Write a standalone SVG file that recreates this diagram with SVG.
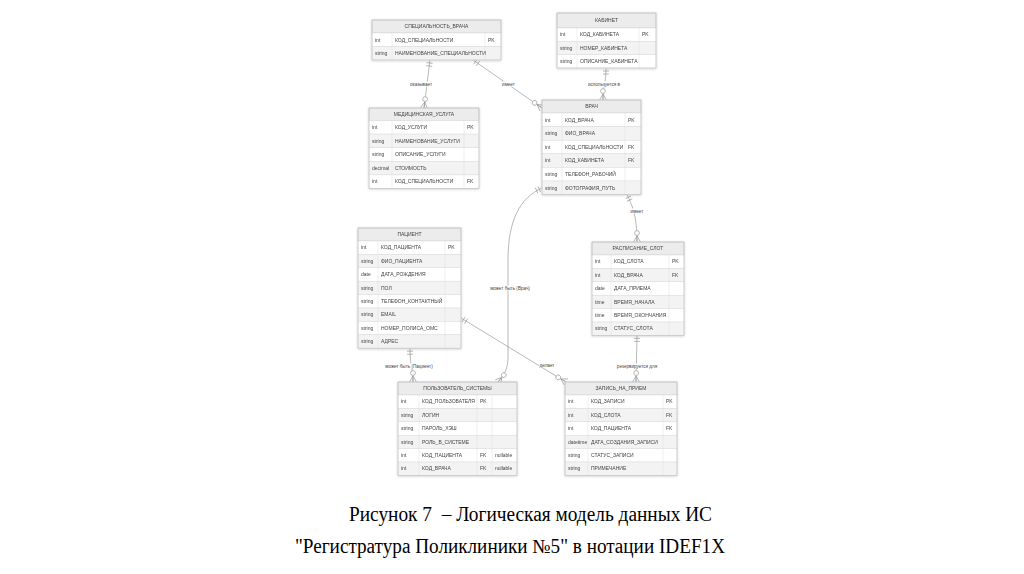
<svg xmlns="http://www.w3.org/2000/svg" width="1024" height="574" viewBox="0 0 1024 574">
<style>
.hd{fill:#ececec;stroke:#c8c8c8;stroke-width:0.6}
.rw{fill:#ffffff;stroke:#dcdcdc;stroke-width:0.5}
.ra{fill:#f3f3f3;stroke:#dcdcdc;stroke-width:0.5}
.box{fill:none;stroke:#c4c4c4;stroke-width:0.7}
.cl{stroke:#dcdcdc;stroke-width:0.5}
.t{font-family:"Liberation Sans",Arial,sans-serif;font-size:5px;fill:#444}
.tt{font-family:"Liberation Sans",Arial,sans-serif;font-size:5px;fill:#444;text-anchor:middle}
.lb{font-family:"Liberation Sans",Arial,sans-serif;font-size:4.6px;fill:#444;text-anchor:middle}
.lbg{fill:#ffffff}
.cn{fill:none;stroke:#9a9a9a;stroke-width:0.7}
.cap{font-family:"Liberation Serif","Times New Roman",serif;font-size:20px;fill:#000;text-anchor:middle}
</style>
<defs>
<filter id="sh" x="-10%" y="-10%" width="120%" height="120%">
<feDropShadow dx="0" dy="0.6" stdDeviation="1" flood-color="#000" flood-opacity="0.18"/>
</filter>
<marker id="one" markerUnits="userSpaceOnUse" viewBox="-10 -5 11 10" markerWidth="11" markerHeight="10" refX="0" refY="0" orient="auto-start-reverse" overflow="visible">
<path d="M-3,-3 L-3,3 M-6,-3 L-6,3" fill="none" stroke="#9a9a9a" stroke-width="0.7"/>
</marker>
<marker id="many" markerUnits="userSpaceOnUse" viewBox="-14 -5 15 10" markerWidth="15" markerHeight="10" refX="0" refY="0" orient="auto" overflow="visible">
<path d="M-6,0 L0,-3.5 M-6,0 L0,3.5 M-6,0 L0,0" fill="none" stroke="#9a9a9a" stroke-width="0.7"/>
<circle cx="-9" cy="0" r="2.4" fill="#ffffff" stroke="#9a9a9a" stroke-width="0.7"/>
</marker>
</defs>
<rect x="0" y="0" width="1024" height="574" fill="#ffffff"/>

<g id="connectors">
<path class="cn" d="M430,60 L424,108" marker-start="url(#one)" marker-end="url(#many)"/>
<path class="cn" d="M473,60 L542,108" marker-start="url(#one)" marker-end="url(#many)"/>
<path class="cn" d="M606,68 C606,84 603,86 603,100" marker-start="url(#one)" marker-end="url(#many)"/>
<path class="cn" d="M627,194.6 C632,205 637,215 637,242" marker-start="url(#one)" marker-end="url(#many)"/>
<path class="cn" d="M637,335.4 L636,382" marker-start="url(#one)" marker-end="url(#many)"/>
<path class="cn" d="M410,348.2 C410,365 413,370 413,382" marker-start="url(#one)" marker-end="url(#many)"/>
<path class="cn" d="M542,188 C520,198 508,220 508,260 L508,358 C508,370 503,376 498,382" marker-start="url(#one)" marker-end="url(#many)"/>
<path class="cn" d="M461,318 L556,376 Q561,379 566,382" marker-start="url(#one)" marker-end="url(#many)"/>
<rect class="lbg" x="409" y="81.5" width="24" height="5"/>
<text class="lb" x="421" y="85.6">оказывает</text>
<rect class="lbg" x="501" y="81.5" width="15" height="5"/>
<text class="lb" x="508.5" y="85.6">имеет</text>
<rect class="lbg" x="586" y="81.5" width="36" height="5"/>
<text class="lb" x="604" y="85.6">используется в</text>
<rect class="lbg" x="629.5" y="208.5" width="15" height="5"/>
<text class="lb" x="637" y="212.6">имеет</text>
<rect class="lbg" x="616" y="363.5" width="42" height="5"/>
<text class="lb" x="637" y="367.6">резервируется для</text>
<rect class="lbg" x="384" y="363.5" width="50" height="5"/>
<text class="lb" x="409" y="367.6">может быть (Пациент)</text>
<rect class="lbg" x="489" y="285.5" width="42" height="5"/>
<text class="lb" x="510" y="289.6">может быть (Врач)</text>
<rect class="lbg" x="539" y="362.5" width="16" height="5"/>
<text class="lb" x="547" y="366.6">делает</text>
</g>

<g id="t_spec" filter="url(#sh)">
<rect class="hd" x="372" y="20" width="129" height="13"/>
<rect class="rw" x="372" y="33" width="129" height="13.5"/>
<rect class="ra" x="372" y="46.5" width="129" height="13.5"/>
<line class="cl" x1="392" y1="33" x2="392" y2="60"/>
<line class="cl" x1="485" y1="33" x2="485" y2="60"/>
<rect class="box" x="372" y="20" width="129" height="40"/>
<text class="tt" x="436.5" y="28.3">СПЕЦИАЛЬНОСТЬ_ВРАЧА</text>
<text class="t" x="375" y="41.5">int</text><text class="t" x="395" y="41.5">КОД_СПЕЦИАЛЬНОСТИ</text><text class="t" x="488" y="41.5">PK</text>
<text class="t" x="375" y="55">string</text><text class="t" x="395" y="55">НАИМЕНОВАНИЕ_СПЕЦИАЛЬНОСТИ</text>
</g>

<g id="t_kab" filter="url(#sh)">
<rect class="hd" x="557" y="13" width="99" height="15"/>
<rect class="rw" x="557" y="28" width="99" height="13.33"/>
<rect class="ra" x="557" y="41.33" width="99" height="13.33"/>
<rect class="rw" x="557" y="54.67" width="99" height="13.33"/>
<line class="cl" x1="577" y1="28" x2="577" y2="68"/>
<line class="cl" x1="639" y1="28" x2="639" y2="68"/>
<rect class="box" x="557" y="13" width="99" height="55"/>
<text class="tt" x="606.5" y="22.3">КАБИНЕТ</text>
<text class="t" x="560" y="36.4">int</text><text class="t" x="580" y="36.4">КОД_КАБИНЕТА</text><text class="t" x="642" y="36.4">PK</text>
<text class="t" x="560" y="49.8">string</text><text class="t" x="580" y="49.8">НОМЕР_КАБИНЕТА</text>
<text class="t" x="560" y="63.1">string</text><text class="t" x="580" y="63.1">ОПИСАНИЕ_КАБИНЕТА</text>
</g>

<g id="t_usl" filter="url(#sh)">
<rect class="hd" x="369" y="108" width="110" height="12.5"/>
<rect class="rw" x="369" y="120.5" width="110" height="13.6"/>
<rect class="ra" x="369" y="134.1" width="110" height="13.6"/>
<rect class="rw" x="369" y="147.7" width="110" height="13.6"/>
<rect class="ra" x="369" y="161.3" width="110" height="13.6"/>
<rect class="rw" x="369" y="174.9" width="110" height="13.6"/>
<line class="cl" x1="392" y1="120.5" x2="392" y2="188.5"/>
<line class="cl" x1="464" y1="120.5" x2="464" y2="188.5"/>
<rect class="box" x="369" y="108" width="110" height="80.5"/>
<text class="tt" x="424" y="116.1">МЕДИЦИНСКАЯ_УСЛУГА</text>
<text class="t" x="372" y="129.05">int</text><text class="t" x="395" y="129.05">КОД_УСЛУГИ</text><text class="t" x="467" y="129.05">PK</text>
<text class="t" x="372" y="142.65">string</text><text class="t" x="395" y="142.65">НАИМЕНОВАНИЕ_УСЛУГИ</text>
<text class="t" x="372" y="156.25">string</text><text class="t" x="395" y="156.25">ОПИСАНИЕ_УСЛУГИ</text>
<text class="t" x="372" y="169.85">decimal</text><text class="t" x="395" y="169.85">СТОИМОСТЬ</text>
<text class="t" x="372" y="183.45">int</text><text class="t" x="395" y="183.45">КОД_СПЕЦИАЛЬНОСТИ</text><text class="t" x="467" y="183.45">FK</text>
</g>

<g id="t_vrach" filter="url(#sh)">
<rect class="hd" x="542" y="100" width="99" height="13"/>
<rect class="rw" x="542" y="113" width="99" height="13.6"/>
<rect class="ra" x="542" y="126.6" width="99" height="13.6"/>
<rect class="rw" x="542" y="140.2" width="99" height="13.6"/>
<rect class="ra" x="542" y="153.8" width="99" height="13.6"/>
<rect class="rw" x="542" y="167.4" width="99" height="13.6"/>
<rect class="ra" x="542" y="181" width="99" height="13.6"/>
<line class="cl" x1="562" y1="113" x2="562" y2="194.6"/>
<line class="cl" x1="625" y1="113" x2="625" y2="194.6"/>
<rect class="box" x="542" y="100" width="99" height="94.6"/>
<text class="tt" x="591.5" y="108.3">ВРАЧ</text>
<text class="t" x="545" y="121.55">int</text><text class="t" x="565" y="121.55">КОД_ВРАЧА</text><text class="t" x="628" y="121.55">PK</text>
<text class="t" x="545" y="135.15">string</text><text class="t" x="565" y="135.15">ФИО_ВРАЧА</text>
<text class="t" x="545" y="148.75">int</text><text class="t" x="565" y="148.75">КОД_СПЕЦИАЛЬНОСТИ</text><text class="t" x="628" y="148.75">FK</text>
<text class="t" x="545" y="162.35">int</text><text class="t" x="565" y="162.35">КОД_КАБИНЕТА</text><text class="t" x="628" y="162.35">FK</text>
<text class="t" x="545" y="175.95">string</text><text class="t" x="565" y="175.95">ТЕЛЕФОН_РАБОЧИЙ</text>
<text class="t" x="545" y="189.55">string</text><text class="t" x="565" y="189.55">ФОТОГРАФИЯ_ПУТЬ</text>
</g>

<g id="t_pac" filter="url(#sh)">
<rect class="hd" x="358" y="228" width="103" height="13"/>
<rect class="rw" x="358" y="241" width="103" height="13.4"/>
<rect class="ra" x="358" y="254.4" width="103" height="13.4"/>
<rect class="rw" x="358" y="267.8" width="103" height="13.4"/>
<rect class="ra" x="358" y="281.2" width="103" height="13.4"/>
<rect class="rw" x="358" y="294.6" width="103" height="13.4"/>
<rect class="ra" x="358" y="308" width="103" height="13.4"/>
<rect class="rw" x="358" y="321.4" width="103" height="13.4"/>
<rect class="ra" x="358" y="334.8" width="103" height="13.4"/>
<line class="cl" x1="378" y1="241" x2="378" y2="348.2"/>
<line class="cl" x1="445" y1="241" x2="445" y2="348.2"/>
<rect class="box" x="358" y="228" width="103" height="120.2"/>
<text class="tt" x="409.5" y="236.3">ПАЦИЕНТ</text>
<text class="t" x="361" y="249.45">int</text><text class="t" x="381" y="249.45">КОД_ПАЦИЕНТА</text><text class="t" x="448" y="249.45">PK</text>
<text class="t" x="361" y="262.85">string</text><text class="t" x="381" y="262.85">ФИО_ПАЦИЕНТА</text>
<text class="t" x="361" y="276.25">date</text><text class="t" x="381" y="276.25">ДАТА_РОЖДЕНИЯ</text>
<text class="t" x="361" y="289.65">string</text><text class="t" x="381" y="289.65">ПОЛ</text>
<text class="t" x="361" y="303.05">string</text><text class="t" x="381" y="303.05">ТЕЛЕФОН_КОНТАКТНЫЙ</text>
<text class="t" x="361" y="316.45">string</text><text class="t" x="381" y="316.45">EMAIL</text>
<text class="t" x="361" y="329.85">string</text><text class="t" x="381" y="329.85">НОМЕР_ПОЛИСА_ОМС</text>
<text class="t" x="361" y="343.25">string</text><text class="t" x="381" y="343.25">АДРЕС</text>
</g>

<g id="t_slot" filter="url(#sh)">
<rect class="hd" x="592" y="242" width="92" height="13"/>
<rect class="rw" x="592" y="255" width="92" height="13.4"/>
<rect class="ra" x="592" y="268.4" width="92" height="13.4"/>
<rect class="rw" x="592" y="281.8" width="92" height="13.4"/>
<rect class="ra" x="592" y="295.2" width="92" height="13.4"/>
<rect class="rw" x="592" y="308.6" width="92" height="13.4"/>
<rect class="ra" x="592" y="322" width="92" height="13.4"/>
<line class="cl" x1="611" y1="255" x2="611" y2="335.4"/>
<line class="cl" x1="669" y1="255" x2="669" y2="335.4"/>
<rect class="box" x="592" y="242" width="92" height="93.4"/>
<text class="tt" x="638" y="250.3">РАСПИСАНИЕ_СЛОТ</text>
<text class="t" x="595" y="263.45">int</text><text class="t" x="614" y="263.45">КОД_СЛОТА</text><text class="t" x="672" y="263.45">PK</text>
<text class="t" x="595" y="276.85">int</text><text class="t" x="614" y="276.85">КОД_ВРАЧА</text><text class="t" x="672" y="276.85">FK</text>
<text class="t" x="595" y="290.25">date</text><text class="t" x="614" y="290.25">ДАТА_ПРИЕМА</text>
<text class="t" x="595" y="303.65">time</text><text class="t" x="614" y="303.65">ВРЕМЯ_НАЧАЛА</text>
<text class="t" x="595" y="317.05">time</text><text class="t" x="614" y="317.05">ВРЕМЯ_ОКОНЧАНИЯ</text>
<text class="t" x="595" y="330.45">string</text><text class="t" x="614" y="330.45">СТАТУС_СЛОТА</text>
</g>

<g id="t_user" filter="url(#sh)">
<rect class="hd" x="398" y="382" width="119" height="13"/>
<rect class="rw" x="398" y="395" width="119" height="13.4"/>
<rect class="ra" x="398" y="408.4" width="119" height="13.4"/>
<rect class="rw" x="398" y="421.8" width="119" height="13.4"/>
<rect class="ra" x="398" y="435.2" width="119" height="13.4"/>
<rect class="rw" x="398" y="448.6" width="119" height="13.4"/>
<rect class="ra" x="398" y="462" width="119" height="13.4"/>
<line class="cl" x1="419" y1="395" x2="419" y2="475.4"/>
<line class="cl" x1="477" y1="395" x2="477" y2="475.4"/>
<line class="cl" x1="492" y1="395" x2="492" y2="475.4"/>
<rect class="box" x="398" y="382" width="119" height="93.4"/>
<text class="tt" x="457.5" y="390.3">ПОЛЬЗОВАТЕЛЬ_СИСТЕМЫ</text>
<text class="t" x="401" y="403.45">int</text><text class="t" x="422" y="403.45">КОД_ПОЛЬЗОВАТЕЛЯ</text><text class="t" x="480" y="403.45">PK</text>
<text class="t" x="401" y="416.85">string</text><text class="t" x="422" y="416.85">ЛОГИН</text>
<text class="t" x="401" y="430.25">string</text><text class="t" x="422" y="430.25">ПАРОЛЬ_ХЭШ</text>
<text class="t" x="401" y="443.65">string</text><text class="t" x="422" y="443.65">РОЛЬ_В_СИСТЕМЕ</text>
<text class="t" x="401" y="457.05">int</text><text class="t" x="422" y="457.05">КОД_ПАЦИЕНТА</text><text class="t" x="480" y="457.05">FK</text><text class="t" x="495" y="457.05">nullable</text>
<text class="t" x="401" y="470.45">int</text><text class="t" x="422" y="470.45">КОД_ВРАЧА</text><text class="t" x="480" y="470.45">FK</text><text class="t" x="495" y="470.45">nullable</text>
</g>

<g id="t_zap" filter="url(#sh)">
<rect class="hd" x="565" y="382" width="112" height="13"/>
<rect class="rw" x="565" y="395" width="112" height="13.4"/>
<rect class="ra" x="565" y="408.4" width="112" height="13.4"/>
<rect class="rw" x="565" y="421.8" width="112" height="13.4"/>
<rect class="ra" x="565" y="435.2" width="112" height="13.4"/>
<rect class="rw" x="565" y="448.6" width="112" height="13.4"/>
<rect class="ra" x="565" y="462" width="112" height="13.4"/>
<line class="cl" x1="588" y1="395" x2="588" y2="475.4"/>
<line class="cl" x1="663" y1="395" x2="663" y2="475.4"/>
<rect class="box" x="565" y="382" width="112" height="93.4"/>
<text class="tt" x="621" y="390.3">ЗАПИСЬ_НА_ПРИЕМ</text>
<text class="t" x="568" y="403.45">int</text><text class="t" x="591" y="403.45">КОД_ЗАПИСИ</text><text class="t" x="666" y="403.45">PK</text>
<text class="t" x="568" y="416.85">int</text><text class="t" x="591" y="416.85">КОД_СЛОТА</text><text class="t" x="666" y="416.85">FK</text>
<text class="t" x="568" y="430.25">int</text><text class="t" x="591" y="430.25">КОД_ПАЦИЕНТА</text><text class="t" x="666" y="430.25">FK</text>
<text class="t" x="568" y="443.65">datetime</text><text class="t" x="591" y="443.65">ДАТА_СОЗДАНИЯ_ЗАПИСИ</text>
<text class="t" x="568" y="457.05">string</text><text class="t" x="591" y="457.05">СТАТУС_ЗАПИСИ</text>
<text class="t" x="568" y="470.45">string</text><text class="t" x="591" y="470.45">ПРИМЕЧАНИЕ</text>
</g>

<g id="caption">
<text class="cap" x="530.5" y="521" textLength="363" lengthAdjust="spacingAndGlyphs">Рисунок 7&#160; – Логическая модель данных ИС</text>
<text class="cap" x="510" y="553" textLength="430" lengthAdjust="spacingAndGlyphs">"Регистратура Поликлиники №5" в нотации IDEF1X</text>
</g>
</svg>
